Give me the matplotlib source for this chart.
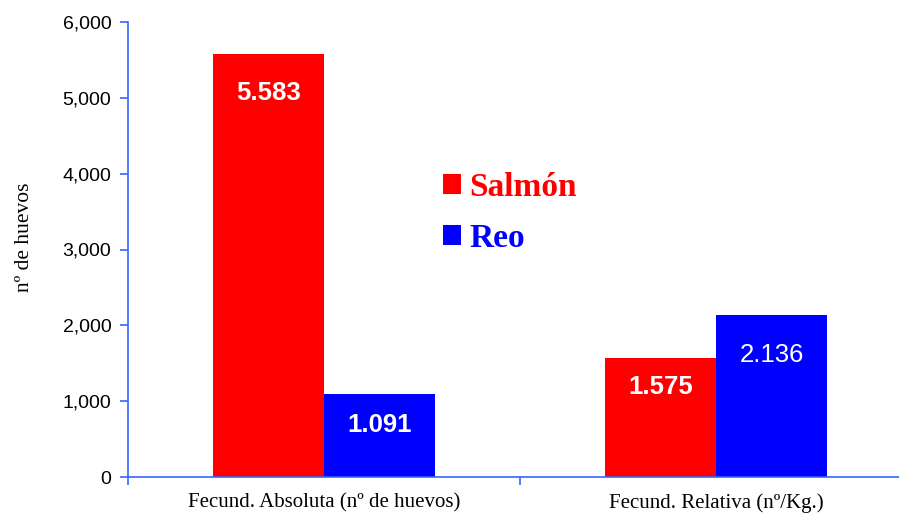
import matplotlib.pyplot as plt
from matplotlib.ticker import FuncFormatter, FixedLocator

# datos
categorias = ['Fecund. Absoluta (nº de huevos)', 'Fecund. Relativa (nº/Kg.)']
salmon = [5583, 1575]
reo = [1091, 2136]
etiquetas_salmon = ['5.583', '1.575']
etiquetas_reo = ['1.091', '2.136']

ROJO = '#ff0000'
AZUL = '#0000ff'
EJE = '#3366ff'

fig = plt.figure(figsize=(8.99, 5.14), dpi=100)
ax = fig.add_axes([128 / 899, 37 / 514, 784 / 899, 455 / 514])

x = list(range(len(categorias)))
w = 0.283
b1 = ax.bar([i - w / 2 for i in x], salmon, width=w, color=ROJO, label='Salmón')
b2 = ax.bar([i + w / 2 for i in x], reo, width=w, color=AZUL, label='Reo')

# etiquetas dentro de las barras
off_s = [-39, -29]
off_r = [-31, -40]
bold_r = ['bold', 'normal']
for i, bar in enumerate(b1):
    ax.annotate(etiquetas_salmon[i], (bar.get_x() + bar.get_width() / 2, bar.get_height()),
                xytext=(0, off_s[i] * 0.72), textcoords='offset points', ha='center', va='center',
                color='white', fontsize=18.5, fontweight='bold', family='Liberation Sans')
for i, bar in enumerate(b2):
    ax.annotate(etiquetas_reo[i], (bar.get_x() + bar.get_width() / 2, bar.get_height()),
                xytext=(0, off_r[i] * 0.72), textcoords='offset points', ha='center', va='center',
                color='white', fontsize=18.5, fontweight=bold_r[i], family='Liberation Sans')

ax.set_xlim(-0.5, 1.5)
ax.set_ylim(0, 6000)
ax.set_yticks(range(0, 6001, 1000))
ax.yaxis.set_major_formatter(FuncFormatter(lambda v, p: f'{int(v):,}'))

ax.set_xticks(x)
ax.set_xticklabels(categorias, family='Liberation Serif', fontsize=15)
ax.xaxis.set_minor_locator(FixedLocator([-0.5, 0.5, 1.5]))
ax.tick_params(axis='x', which='major', length=0, pad=12)
ax.tick_params(axis='x', which='minor', length=6, color=EJE, width=1.2, direction='out')
ax.tick_params(axis='y', length=6, color=EJE, width=1.2, direction='out', labelsize=14, pad=6)
for lab in ax.get_yticklabels():
    lab.set_family('Liberation Sans')

for s in ['top', 'right']:
    ax.spines[s].set_visible(False)
for s in ['left', 'bottom']:
    ax.spines[s].set_color(EJE)
    ax.spines[s].set_linewidth(1.2)

ax.set_ylabel('nº de huevos', family='Liberation Serif', fontsize=15.5)
ax.yaxis.set_label_coords(-0.12, 0.527)

# leyenda
leg = ax.legend(loc='upper left', bbox_to_anchor=(0.38, 0.708), frameon=False, borderpad=0,
                prop={'family': 'Liberation Serif', 'size': 24, 'weight': 'bold'},
                handlelength=0.55, handleheight=0.55, handletextpad=0.25, labelspacing=0.6)
for t, c in zip(leg.get_texts(), [ROJO, AZUL]):
    t.set_color(c)

fig.savefig('out.png', dpi=100)
